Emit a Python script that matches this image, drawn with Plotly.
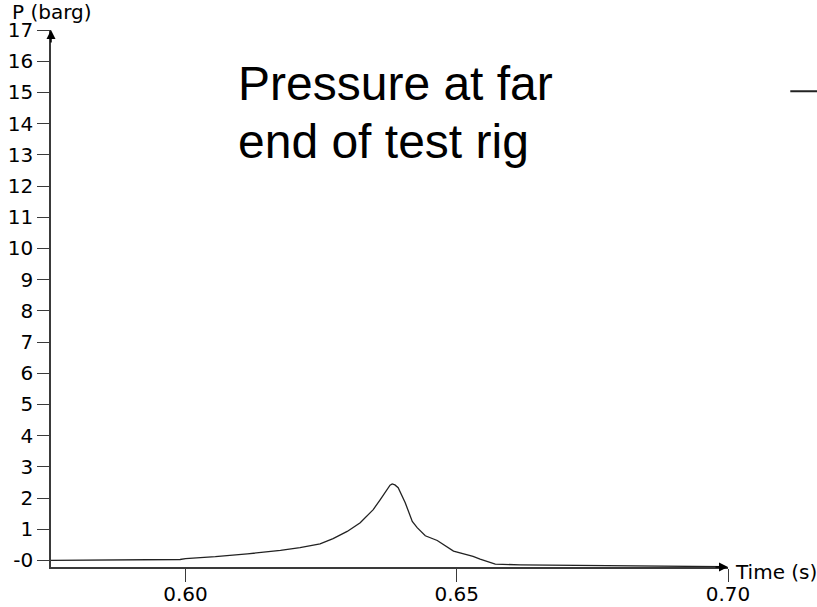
import plotly.graph_objects as go

# Pressure trace at the far end of the test rig
time_s = [0.5752, 0.5843, 0.5990, 0.6000, 0.6055, 0.6114, 0.6175, 0.6211,
          0.6248, 0.6272, 0.6298, 0.6322, 0.6346, 0.6359, 0.6372, 0.6377, 0.6381,
          0.6386, 0.6392, 0.6405, 0.6418, 0.6427, 0.6442, 0.6464, 0.6494, 0.6519,
          0.6530, 0.6543, 0.6571, 0.6617, 0.6727, 0.6785, 0.6838, 0.6958, 0.6990]
pressure_barg = [0.00, 0.02, 0.03, 0.06, 0.12, 0.21, 0.32, 0.41,
                 0.53, 0.70, 0.93, 1.21, 1.63, 1.95, 2.30, 2.41, 2.45,
                 2.42, 2.33, 1.85, 1.25, 1.05, 0.79, 0.64, 0.30, 0.18,
                 0.13, 0.04, -0.12, -0.14, -0.16, -0.17, -0.19, -0.19, -0.20]

y_ticks = list(range(0, 18))
y_tick_labels = ["-0"] + [str(v) for v in range(1, 18)]
x_ticks = [0.60, 0.65, 0.70]
x_tick_labels = ["0.60", "0.65", "0.70"]

X_RANGE = [0.5752, 0.7000]
Y_RANGE = [-0.21, 17.0]

tick_font = dict(family="DejaVu Sans", size=20, color="black")
axis_col = "#3a3a3a"

fig = go.Figure()
fig.add_trace(go.Scatter(
    x=time_s, y=pressure_barg, mode="lines",
    line=dict(color="#222222", width=1.3),
    showlegend=False, hoverinfo="skip",
))

fig.update_layout(
    width=817, height=607,
    margin=dict(l=51, r=89, t=30, b=40, pad=0),
    paper_bgcolor="white", plot_bgcolor="white",
    showlegend=False,
    xaxis=dict(
        range=X_RANGE, showgrid=False, zeroline=False, automargin=False,
        showline=True, linecolor=axis_col, linewidth=1.5,
        tickmode="array", tickvals=x_ticks, ticktext=x_tick_labels,
        ticks="outside", ticklen=13, tickwidth=1.2, tickcolor=axis_col,
        ticklabelstandoff=-5,
        tickfont=tick_font, fixedrange=True,
    ),
    yaxis=dict(
        range=Y_RANGE, showgrid=False, zeroline=False, automargin=False,
        showline=True, linecolor=axis_col, linewidth=1.5,
        tickmode="array", tickvals=y_ticks, ticktext=y_tick_labels,
        ticks="outside", ticklen=12, tickwidth=1.2, tickcolor=axis_col,
        tickfont=tick_font, fixedrange=True,
    ),
)

# Arrowheads at the ends of both axes
fig.add_annotation(x=X_RANGE[0], y=Y_RANGE[1], xref="x", yref="y",
                   text="", showarrow=True, arrowhead=2, arrowsize=1.2,
                   arrowwidth=1.5, arrowcolor="black",
                   ax=0, ay=14, axref="pixel", ayref="pixel")
fig.add_annotation(x=X_RANGE[1], y=Y_RANGE[0], xref="x", yref="y",
                   text="", showarrow=True, arrowhead=2, arrowsize=1.2,
                   arrowwidth=1.5, arrowcolor="black",
                   ax=-14, ay=0, axref="pixel", ayref="pixel")

# Axis titles placed at the arrow tips
fig.add_annotation(text="P (barg)", xref="paper", yref="paper",
                   x=-0.060, y=1.034, xanchor="left", yanchor="middle",
                   showarrow=False, font=tick_font)
fig.add_annotation(text="Time (s)", xref="paper", yref="paper",
                   x=1.008, y=-0.009, xanchor="left", yanchor="middle",
                   showarrow=False, font=tick_font)

# Chart caption
caption_font = dict(family="Liberation Sans, Arial", size=48, color="black")
fig.add_annotation(text="Pressure at far", xref="paper", yref="paper",
                   x=0.273, y=0.900, xanchor="left", yanchor="middle",
                   showarrow=False, font=caption_font)
fig.add_annotation(text="end of test rig", xref="paper", yref="paper",
                   x=0.273, y=0.793, xanchor="left", yanchor="middle",
                   showarrow=False, font=caption_font)

# Short legend stroke at the right edge
fig.add_shape(type="line", xref="paper", yref="y",
              x0=1.092, x1=1.14, y0=15.04, y1=15.04,
              line=dict(color="#222222", width=2))

fig.write_html("out.html")
